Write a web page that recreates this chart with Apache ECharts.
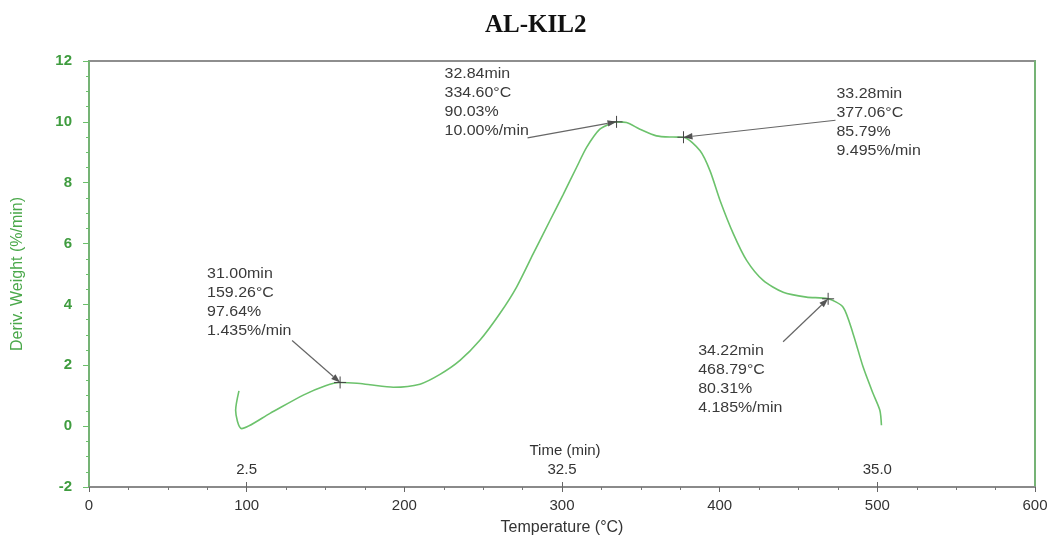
<!DOCTYPE html>
<html>
<head>
<meta charset="utf-8">
<title>AL-KIL2</title>
<script src="https://cdn.jsdelivr.net/npm/echarts@6/dist/echarts.min.js"></script>
<style>
  html, body { margin: 0; padding: 0; background: #ffffff; }
  #chart { width: 1054px; height: 536px; }
</style>
</head>
<body>
<div id="chart"></div>
<script>
// DTG curve: temperature (°C) vs derivative weight (%/min)
var temperature = [95.1, 93.0, 96.8, 114.8, 135.9, 150.0, 159.26, 170.0, 178.2, 193.0, 209.9, 222.6, 235.3,
  247.9, 260.6, 271.2, 281.7, 292.3, 300.8, 309.2, 315.6, 324.0, 332.5, 334.6, 340.9, 349.4, 359.9,
  370.4, 377.06, 387.6, 393.9, 400.3, 408.7, 417.2, 427.6, 440.3, 455.1, 468.79, 478.3, 484.6, 491.0,
  497.3, 501.6, 502.6];
var derivWeight = [1.16, 0.52, -0.08, 0.42, 1.02, 1.33, 1.435, 1.41, 1.36, 1.28, 1.38, 1.70, 2.16,
  2.82, 3.70, 4.57, 5.66, 6.75, 7.62, 8.50, 9.16, 9.76, 9.98, 10.00, 9.98, 9.76, 9.54,
  9.50, 9.495, 9.05, 8.39, 7.41, 6.32, 5.44, 4.79, 4.40, 4.24, 4.185, 3.91, 3.04, 1.94,
  1.07, 0.52, 0.03];

// Annotated points
var peakTemp = [334.60, 377.06, 159.26, 468.79];
var peakDeriv = [10.00, 9.495, 1.435, 4.185];
var peakTime = ['32.84min', '33.28min', '31.00min', '34.22min'];
var peakTempLabel = ['334.60°C', '377.06°C', '159.26°C', '468.79°C'];
var peakMass = ['90.03%', '85.79%', '97.64%', '80.31%'];
var peakRate = ['10.00%/min', '9.495%/min', '1.435%/min', '4.185%/min'];

// Secondary time scale labels placed at temperatures
var timeTickTemps = [100, 300, 500];
var timeTickLabels = ['2.5', '32.5', '35.0'];

// Callout layout (pixel offsets from the marked point): text box and arrow tail
var calloutLayout = [
  { tx: -172, ty: -57, ax: -89, ay: 16 },
  { tx: 153, ty: -53, ax: 152, ay: -17 },
  { tx: -133, ty: -118, ax: -48, ay: -42 },
  { tx: -130, ty: 43, ax: -45, ay: 43 }
];

var GREEN = '#4aa84a';
var CURVE = '#6cc26c';
var FONT = '"Liberation Sans", Arial, sans-serif';
var GRID = { left: 89, right: 19, top: 61, bottom: 49 };
var W = 1054, H = 536;

var curveData = temperature.map(function (t, i) { return [t, derivWeight[i]]; });
var peakData = peakTemp.map(function (t, i) { return [t, peakDeriv[i], i]; });

function renderCallout(params, api) {
  var i = api.value(2);
  var p = api.coord([api.value(0), api.value(1)]);
  var lay = calloutLayout[i];
  var tail = [p[0] + lay.ax, p[1] + lay.ay];
  var dx = p[0] - tail[0], dy = p[1] - tail[1];
  var len = Math.sqrt(dx * dx + dy * dy);
  var ux = dx / len, uy = dy / len;
  var headLen = 9, headW = 3.2;
  var base = [p[0] - ux * headLen, p[1] - uy * headLen];
  var s = 6;
  return {
    type: 'group',
    children: [
      { type: 'line', shape: { x1: tail[0], y1: tail[1], x2: base[0], y2: base[1] },
        style: { stroke: '#666', lineWidth: 1.2 } },
      { type: 'polygon', shape: { points: [
          [p[0], p[1]],
          [base[0] - uy * headW, base[1] + ux * headW],
          [base[0] + uy * headW, base[1] - ux * headW]
        ] }, style: { fill: '#555' } },
      { type: 'line', shape: { x1: p[0] - s, y1: p[1], x2: p[0] + s, y2: p[1] },
        style: { stroke: '#444', lineWidth: 1 } },
      { type: 'line', shape: { x1: p[0], y1: p[1] - s, x2: p[0], y2: p[1] + s },
        style: { stroke: '#444', lineWidth: 1 } },
      { type: 'text', x: p[0] + lay.tx, y: p[1] + lay.ty, scaleX: 1.14,
        style: {
          text: [peakTime[i], peakTempLabel[i], peakMass[i], peakRate[i]].join('\n'),
          font: '14px ' + FONT,
          lineHeight: 19, fill: '#3a3a3a', align: 'left', verticalAlign: 'top'
        } }
    ]
  };
}

var chart = echarts.init(document.getElementById('chart'), null, { renderer: 'canvas' });
chart.setOption({
  animation: false,
  backgroundColor: '#ffffff',
  title: {
    text: 'AL-KIL2', left: 480, top: 8,
    textStyle: { fontFamily: '"Liberation Serif", "Times New Roman", serif', fontWeight: 'bold', fontSize: 25, color: '#111' }
  },
  graphic: [
    {
      type: 'text',
      x: GRID.left + (W - GRID.left - GRID.right) / 2 + 3,
      y: H - GRID.bottom - 36,
      style: { text: 'Time (min)', font: '15px ' + FONT, fill: '#333', align: 'center', verticalAlign: 'middle' }
    }
  ],
  grid: { left: GRID.left, right: GRID.right, top: GRID.top, bottom: GRID.bottom, show: true,
    outerBoundsMode: 'none', containLabel: false,
    borderColor: '#8e8e8e', borderWidth: 2, backgroundColor: 'transparent' },
  xAxis: [
    {
      type: 'value', min: 0, max: 600, interval: 100, position: 'bottom',
      name: 'Temperature (°C)', nameLocation: 'middle', nameGap: 33,
      nameTextStyle: { color: '#333', fontSize: 16, fontFamily: FONT },
      axisLine: { show: true, onZero: false, lineStyle: { color: '#8a8a8a', width: 2 } },
      axisTick: { show: true, length: 5, lineStyle: { color: '#666' } },
      minorTick: { show: true, splitNumber: 4, length: 3, lineStyle: { color: '#777' } },
      axisLabel: { color: '#333', fontSize: 15, margin: 11, fontFamily: FONT },
      splitLine: { show: false }
    },
    {
      type: 'value', min: 0, max: 600, position: 'bottom',
      axisLine: { show: false, onZero: false },
      axisTick: { show: true, inside: true, length: 5, customValues: timeTickTemps, lineStyle: { color: '#666' } },
      axisLabel: {
        show: true, inside: true, margin: 10, color: '#333', fontSize: 15, fontFamily: FONT,
        customValues: timeTickTemps,
        formatter: function (v) {
          var k = timeTickTemps.indexOf(v);
          return k >= 0 ? timeTickLabels[k] : '';
        }
      },
      splitLine: { show: false }
    }
  ],
  yAxis: [
    {
      type: 'value', min: -2, max: 12, interval: 2, position: 'left',
      name: 'Deriv. Weight (%/min)', nameLocation: 'middle', nameGap: 63,
      nameTextStyle: { color: GREEN, fontSize: 16, fontFamily: FONT },
      axisLine: { show: true, onZero: false, lineStyle: { color: '#6cbf6c', width: 1.5 } },
      axisTick: { show: true, length: 6, lineStyle: { color: '#6cbf6c' } },
      minorTick: { show: true, splitNumber: 4, length: 3, lineStyle: { color: '#6cbf6c' } },
      axisLabel: { color: '#3f9c3f', fontSize: 15, fontWeight: 'bold', margin: 17, fontFamily: FONT },
      splitLine: { show: false }
    },
    {
      type: 'value', min: -2, max: 12, position: 'right',
      axisLine: { show: true, onZero: false, lineStyle: { color: '#6cbf6c', width: 1.5 } },
      axisTick: { show: false }, axisLabel: { show: false }, splitLine: { show: false }
    }
  ],
  series: [
    {
      type: 'line', xAxisIndex: 0, yAxisIndex: 0, data: curveData,
      smooth: 0.25, showSymbol: false,
      lineStyle: { color: CURVE, width: 1.6 }
    },
    {
      type: 'custom', xAxisIndex: 0, yAxisIndex: 0, data: peakData,
      renderItem: renderCallout, clip: false, z: 5
    }
  ]
});
</script>
</body>
</html>
